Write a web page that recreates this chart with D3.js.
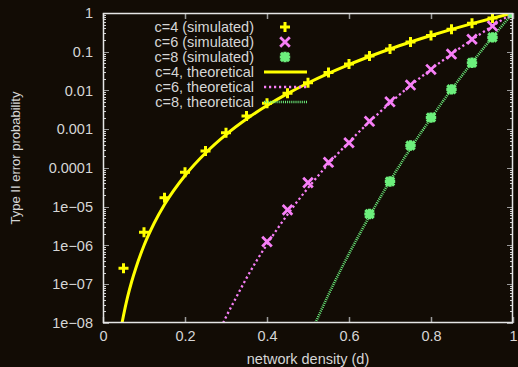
<!DOCTYPE html>
<html>
<head>
<meta charset="utf-8">
<script src="https://cdn.jsdelivr.net/npm/d3@7"></script>
<style>
  html, body { margin: 0; padding: 0; background: #120c05; }
  svg { display: block; }
  text { font-family: "Liberation Sans", Arial, Helvetica, sans-serif; fill: #d6d6d6; }
</style>
</head>
<body>
<svg id="chart" width="518" height="367"></svg>
<script>
// Network density values at which the simulation was run
const densitySim = [0.05, 0.1, 0.15, 0.2, 0.25, 0.3, 0.35, 0.4, 0.45, 0.5,
                    0.55, 0.6, 0.65, 0.7, 0.75, 0.8, 0.85, 0.9, 0.95, 1.0];

// Simulated type II error probabilities
const simC4 = [2.6e-7, 2.2e-6, 1.7e-5, 7.8e-5, 2.75e-4, 8.1e-4, 2.2e-3, 4.7e-3, 8.5e-3, 0.0158,
               0.029, 0.048, 0.078, 0.117, 0.178, 0.263, 0.38, 0.54, 0.74, 1.0];
const simC6 = [null, null, null, null, null, null, null, 1.26e-6, 8.3e-6, 4.2e-5,
               1.4e-4, 4.5e-4, 1.6e-3, 5.1e-3, 0.0138, 0.035, 0.087, 0.21, 0.46, 1.0];
const simC8 = [null, null, null, null, null, null, null, null, null, null,
               null, null, 6.5e-6, 4.5e-5, 3.8e-4, 2.0e-3, 0.0107, 0.052, 0.235, 1.0];

// Theoretical curves: density values and probabilities along each curve
const theoC4X = [0.0464, 0.05, 0.06, 0.07, 0.08, 0.1, 0.125, 0.15, 0.2, 0.25, 0.3, 0.35, 0.4, 0.45,
                 0.5, 0.55, 0.6, 0.65, 0.7, 0.75, 0.8, 0.85, 0.9, 0.95, 1.0];
const theoC4Y = [1e-8, 1.56e-8, 4.7e-8, 1.18e-7, 2.6e-7, 1e-6, 3.8e-6, 1.14e-5, 6.4e-5, 2.44e-4,
                 7.3e-4, 1.84e-3, 4.1e-3, 8.3e-3, 0.0156, 0.0277, 0.0467, 0.0754, 0.118, 0.178,
                 0.262, 0.377, 0.531, 0.735, 1.0];
const theoC6X = [0.293, 0.3, 0.325, 0.35, 0.375, 0.4, 0.45, 0.5, 0.55, 0.6, 0.65, 0.7, 0.75,
                 0.8, 0.85, 0.9, 0.95, 1.0];
const theoC6Y = [1e-8, 1.43e-8, 4.6e-8, 1.44e-7, 4.1e-7, 1.07e-6, 6.3e-6, 3.05e-5, 1.28e-4, 4.7e-4,
                 1.56e-3, 4.75e-3, 0.0134, 0.0352, 0.087, 0.206, 0.463, 1.0];
const theoC8X = [0.518, 0.55, 0.6, 0.65, 0.7, 0.75, 0.8, 0.85, 0.9, 0.95, 1.0];
const theoC8Y = [1e-8, 5.4e-8, 6.1e-7, 5.7e-6, 4.6e-5, 3.2e-4, 1.93e-3, 0.0106, 0.0523, 0.238, 1.0];

// Axis ticks
const xTicks = [0, 0.2, 0.4, 0.6, 0.8, 1.0];
const xTickLabels = ["0", "0.2", "0.4", "0.6", "0.8", "1"];
const yTicks = [1, 0.1, 0.01, 0.001, 0.0001, 1e-5, 1e-6, 1e-7, 1e-8];
const yTickLabels = ["1", "0.1", "0.01", "0.001", "0.0001", "1e\u221205", "1e\u221206", "1e\u221207", "1e\u221208"];

const legendLabels = ["c=4 (simulated)", "c=6 (simulated)", "c=8 (simulated)",
                      "c=4, theoretical", "c=6, theoretical", "c=8, theoretical"];

const COL4 = "#ffff00", COL6 = "#f77ff7", COL8 = "#6cef7c";
const AXIS = "#e6e6e6";

const margin = { left: 103, top: 13, right: 5, bottom: 44 };
const W = 518, H = 367;
const pw = W - margin.left - margin.right;   // 410
const ph = H - margin.top - margin.bottom;   // 310

const svg = d3.select("#chart");
svg.append("rect").attr("width", W).attr("height", H).attr("fill", "#120c05");

const x = d3.scaleLinear().domain([0, 1]).range([margin.left, margin.left + pw]);
const y = d3.scaleLog().domain([1e-8, 1]).range([margin.top + ph, margin.top]);

svg.append("defs").append("clipPath").attr("id", "plotClip")
  .append("rect").attr("x", margin.left).attr("y", margin.top).attr("width", pw).attr("height", ph);

// Minor log ticks (2..9 within each decade)
const minorY = [];
for (let e = -8; e < 0; e++) for (let m = 2; m <= 9; m++) minorY.push(m * Math.pow(10, e));

const ticksG = svg.append("g");
function yTickMarks(values, len, color) {
  [margin.left, margin.left + pw].forEach((x0, i) => {
    const dir = i === 0 ? 1 : -1;
    ticksG.selectAll(null).data(values).enter().append("line")
      .attr("x1", x0).attr("x2", x0 + dir * len)
      .attr("y1", d => Math.round(y(d)) + 0.5).attr("y2", d => Math.round(y(d)) + 0.5)
      .attr("stroke", color).attr("stroke-width", 1);
  });
}
yTickMarks(minorY, 3, "#cfcfcf");
yTickMarks(yTicks, 6, "#9a9a9a");
[margin.top, margin.top + ph].forEach((y0, i) => {
  const dir = i === 0 ? 1 : -1;
  ticksG.selectAll(null).data(xTicks).enter().append("line")
    .attr("x1", d => Math.round(x(d)) + 0.5).attr("x2", d => Math.round(x(d)) + 0.5)
    .attr("y1", y0).attr("y2", y0 + dir * 6)
    .attr("stroke", "#9a9a9a").attr("stroke-width", 1.5);
});

// Axis tick labels via d3 axes
const yAxis = d3.axisLeft(y).tickValues(yTicks).tickSize(0).tickPadding(10)
  .tickFormat((d, i) => yTickLabels[i]);
const gy = svg.append("g").attr("transform", `translate(${margin.left},0)`).call(yAxis);
const xAxis = d3.axisBottom(x).tickValues(xTicks).tickSize(0).tickPadding(8)
  .tickFormat((d, i) => xTickLabels[i]);
const gx = svg.append("g").attr("transform", `translate(0,${margin.top + ph})`).call(xAxis);
[gx, gy].forEach(g => {
  g.select(".domain").remove();
  g.selectAll("text").attr("fill", "#d6d6d6").style("font-size", "14.5px")
    .style("font-family", "'Liberation Sans', Arial, sans-serif");
});

// Axis titles
svg.append("text").attr("x", margin.left + pw / 2).attr("y", 364)
  .attr("text-anchor", "middle").style("font-size", "14.5px").text("network density (d)");
svg.append("text").attr("transform", `translate(20,158) rotate(-90)`)
  .attr("text-anchor", "middle").style("font-size", "13px").text("Type II error probability");

// Plot contents
const plot = svg.append("g").attr("clip-path", "url(#plotClip)");
const line = d3.line().x(d => x(d[0])).y(d => y(d[1])).curve(d3.curveMonotoneX);
const zip = (xs, ys) => xs.map((v, i) => [v, ys[i]]);

const styles = {
  c4: { color: COL4, width: 3, dash: null },
  c6: { color: COL6, width: 2.3, dash: "2.2,2.8" },
  c8: { color: COL8, width: 2.6, dash: "1,1.1" }
};

plot.append("path").datum(zip(theoC4X, theoC4Y)).attr("d", line)
  .attr("fill", "none").attr("stroke", styles.c4.color).attr("stroke-width", styles.c4.width);
plot.append("path").datum(zip(theoC6X, theoC6Y)).attr("d", line)
  .attr("fill", "none").attr("stroke", styles.c6.color).attr("stroke-width", styles.c6.width)
  .attr("stroke-dasharray", styles.c6.dash);
plot.append("path").datum(zip(theoC8X, theoC8Y)).attr("d", line)
  .attr("fill", "none").attr("stroke", styles.c8.color).attr("stroke-width", styles.c8.width)
  .attr("stroke-dasharray", styles.c8.dash);

// Marker shapes: plus, cross, star
const markerPath = {
  plus: "M-3.5,0H3.5M0,-3.5V3.5",
  cross: "M-3.8,-3.8L3.8,3.8M-3.8,3.8L3.8,-3.8",
  star: "M-3.6,0H3.6M0,-3.6V3.6M-3,-3L3,3M-3,3L3,-3"
};
const markerWidth = { plus: 3, cross: 2.8, star: 3.2 };
function drawPoints(vals, shape, color) {
  const pts = densitySim.map((d, i) => [d, vals[i]]).filter(p => p[1] != null);
  plot.selectAll(null).data(pts).enter().append("path")
    .attr("transform", p => `translate(${x(p[0])},${y(p[1])})`)
    .attr("d", markerPath[shape]).attr("fill", "none")
    .attr("stroke", color).attr("stroke-width", markerWidth[shape]).attr("stroke-linecap", "square");
}
drawPoints(simC4, "plus", COL4);
drawPoints(simC6, "cross", COL6);
drawPoints(simC8, "star", COL8);

// Frame
svg.append("rect").attr("x", margin.left + 0.5).attr("y", margin.top + 0.5)
  .attr("width", pw - 1).attr("height", ph - 1)
  .attr("fill", "none").attr("stroke", AXIS).attr("stroke-width", 1.5);

// Legend
const legend = svg.append("g");
const rowY = i => 27 + i * 15;
legend.selectAll(null).data(legendLabels).enter().append("text")
  .attr("x", 254).attr("y", (d, i) => rowY(i)).attr("dy", "0.35em")
  .attr("text-anchor", "end").style("font-size", "14.5px").text(d => d);
[["plus", COL4], ["cross", COL6], ["star", COL8]].forEach(([shape, color], i) => {
  legend.append("path").attr("transform", `translate(285,${rowY(i)})`)
    .attr("d", markerPath[shape]).attr("fill", "none")
    .attr("stroke", color).attr("stroke-width", markerWidth[shape]).attr("stroke-linecap", "square");
});
[styles.c4, styles.c6, styles.c8].forEach((s, i) => {
  legend.append("line").attr("x1", 264).attr("x2", 307)
    .attr("y1", rowY(i + 3)).attr("y2", rowY(i + 3))
    .attr("stroke", s.color).attr("stroke-width", s.width)
    .attr("stroke-dasharray", s.dash);
});
</script>
</body>
</html>
